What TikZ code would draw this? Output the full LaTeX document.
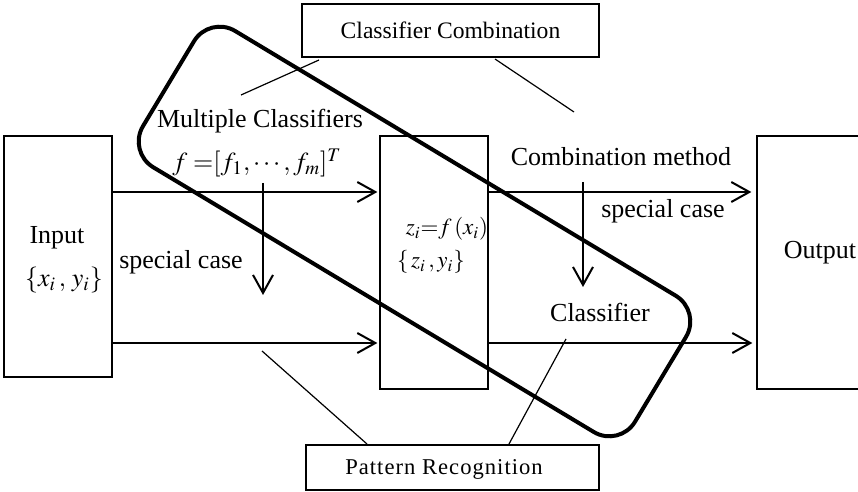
\documentclass[tikz,border=0pt]{standalone}
\usepackage{mathptmx}
\usepackage{fontspec}
\setmainfont{Liberation Serif}
\usetikzlibrary{arrows.meta}

\tikzset{
  box/.style={draw, line width=0.65pt, rectangle, inner sep=0pt},
  lbl/.style={inner sep=0pt, font=\fontsize{13}{15}\selectfont},
  small/.style={inner sep=0pt, font=\fontsize{11.5}{13}\selectfont},
  flow/.style={line width=1pt, -{Straight Barb[length=9pt, width=10pt, line width=1pt]}},
  callout/.style={line width=0.6pt},
  group/.style={draw, line width=2pt, rectangle, rounded corners=15pt, inner sep=0pt}
}

\begin{document}
\begin{tikzpicture}[x=0.5pt, y=-0.5pt]
\useasboundingbox (0,0) rectangle (858,492);

% main blocks
\node[box, minimum width=54pt, minimum height=120.5pt] (in) at (58,256.5) {};
\node[box, minimum width=54pt, minimum height=126.5pt] (mid) at (434,262.5) {};
\node[box, minimum width=52.5pt, minimum height=126.5pt] (out) at (809.5,262.5) {};
\node[box, minimum width=148.5pt, minimum height=26.5pt] (cc) at (450.5,30.5) {};
\node[box, minimum width=146.5pt, minimum height=22.5pt] (pr) at (452.5,467.5) {};

% group outline
\node[group, rotate=-31, minimum width=287pt, minimum height=79.5pt] (grp) at (414.5,231.5) {};

% texts
\node[small, font=\fontsize{11.8}{14}\selectfont] (cct) at (cc) {Classifier Combination};
\node[small, font=\fontsize{11.3}{13}\selectfont\addfontfeature{LetterSpace=4.5}] (prt) at (444,469) {Pattern Recognition};
\node[lbl] (int) at (57,238) {Input};
\node[lbl] (inm) at (64,280) {$\{x_i\,,\,y_i\}$};
\node[lbl] (outt) at (820,253) {Output};
\node[lbl] (mc) at (260,121) {Multiple Classifiers};
\node[lbl] (fv) at (257,163) {$f\;{=}[f_1,\cdots,f_m]^T$};
\node[lbl] (cm) at (621,157) {Combination method};
\node[lbl] (sc2) at (663,211) {special case};
\node[lbl] (sc1) at (181,262) {special case};
\node[lbl] (cl) at (600,312) {Classifier};
\node[small] (zf) at (447,229) {$z_i{=}f\,(x_i)$};
\node[small] (zy) at (431,262) {$\{\,z_i\,,y_i\}$};

% rows of the flow arrows
\coordinate (rowA) at (0,192);
\coordinate (rowB) at (0,343);
\draw[flow] (in.east |- rowA) -- ([xshift=-1pt]mid.west |- rowA);
\draw[flow] (in.east |- rowB) -- ([xshift=-1pt]mid.west |- rowB);
\draw[flow] (mid.east |- rowA) -- ([xshift=-2.5pt]out.west |- rowA);
\draw[flow] (mid.east |- rowB) -- ([xshift=-2pt]out.west |- rowB);

% special-case arrows
\coordinate (sa1) at (263,183);
\coordinate (sb1) at (263,295);
\coordinate (sa2) at (583,182);
\coordinate (sb2) at (583,287);
\draw[flow] (sa1) -- (sb1);
\draw[flow] (sa2) -- (sb2);

% callout lines
\coordinate (k1) at (319,60);
\coordinate (k2) at (241,95);
\coordinate (k3) at (495,59);
\coordinate (k4) at (574,112);
\coordinate (k5) at (262,351);
\coordinate (k6) at (367,444);
\coordinate (k7) at (566,339);
\coordinate (k8) at (509,444);
\draw[callout] (k1) -- (k2);
\draw[callout] (k3) -- (k4);
\draw[callout] (k5) -- (k6);
\draw[callout] (k7) -- (k8);
\end{tikzpicture}
\end{document}
